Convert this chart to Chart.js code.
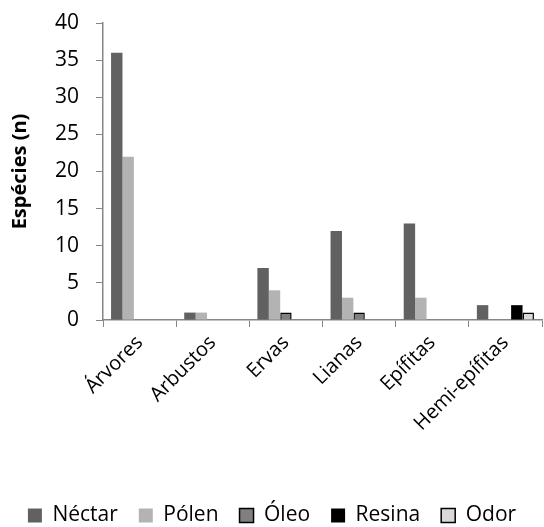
<!DOCTYPE html>
<html>
<head>
<meta charset="utf-8">
<script src="https://cdn.jsdelivr.net/npm/chart.js@4.4.0/dist/chart.umd.min.js"></script>
<style>
  html, body { margin: 0; padding: 0; background: #fff; }
  #wrap { width: 544px; height: 527px; }
</style>
</head>
<body>
<div id="wrap"><canvas id="recursosChart"></canvas></div>
<script>
// Categorias de hábito e número de espécies por recurso floral
const categories = ['Árvores', 'Arbustos', 'Ervas', 'Lianas', 'Epífitas', 'Hemi-epífitas'];
const nectar = [36, 1, 7, 12, 13, 2];
const polen = [22, 1, 4, 3, 3, 0];
const oleo = [0, 0, 1, 1, 0, 0];
const resina = [0, 0, 0, 0, 0, 2];
const odor = [0, 0, 0, 0, 0, 1];
const yTicks = [0, 5, 10, 15, 20, 25, 30, 35, 40];

const fontFamily = '"Open Sans", "DejaVu Sans", sans-serif';
const axisGray = '#868686';

const ctx = document.getElementById('recursosChart').getContext('2d');
new Chart(ctx, {
    type: 'bar',
    data: {
        labels: categories,
        datasets: [
            { label: 'Néctar', data: nectar, backgroundColor: '#616161', borderWidth: 0 },
            { label: 'Pólen', data: polen, backgroundColor: '#b3b3b3', borderWidth: 0 },
            { label: 'Óleo', data: oleo, backgroundColor: '#808080', borderColor: '#000', borderWidth: 1.5 },
            { label: 'Resina', data: resina, backgroundColor: '#000000', borderWidth: 0 },
            { label: 'Odor', data: odor, backgroundColor: '#d9d9d9', borderColor: '#000', borderWidth: 1.5 }
        ]
    },
    options: {
        responsive: true,
        maintainAspectRatio: false,
        animation: false,
        categoryPercentage: 0.78,
        barPercentage: 1.0,
        layout: { padding: { top: 0, right: 2, left: 2, bottom: -9 } },
        plugins: {
            legend: {
                position: 'bottom',
                labels: {
                    color: '#000',
                    font: { family: fontFamily, size: 21 },
                    boxWidth: 14,
                    boxHeight: 14,
                    padding: 21
                }
            },
            tooltip: { enabled: false }
        },
        scales: {
            x: {
                grid: {
                    offset: true,
                    drawOnChartArea: false,
                    drawTicks: true,
                    tickLength: 7,
                    color: axisGray
                },
                border: { color: axisGray, width: 1.5 },
                ticks: {
                    color: '#000',
                    font: { family: fontFamily, size: 20 },
                    maxRotation: 45,
                    minRotation: 45,
                    padding: 4
                },
                afterFit: function (scale) { scale.height = 164; }
            },
            y: {
                min: 0,
                max: 40,
                afterBuildTicks: function (scale) {
                    scale.ticks = yTicks.map(v => ({ value: v }));
                },
                // top of the plot sits at the "40" label, not label + padding
                afterFit: function (scale) { scale.paddingTop = 23; },
                grid: {
                    drawOnChartArea: false,
                    drawTicks: true,
                    tickLength: 7,
                    color: axisGray
                },
                border: { color: axisGray, width: 1.5 },
                ticks: {
                    color: '#000',
                    font: { family: fontFamily, size: 21 },
                    padding: 17
                },
                title: {
                    display: true,
                    text: 'Espécies (n)',
                    color: '#000',
                    font: { family: fontFamily, size: 20, weight: 'bold' },
                    padding: 6
                }
            }
        }
    }
});
</script>
</body>
</html>
